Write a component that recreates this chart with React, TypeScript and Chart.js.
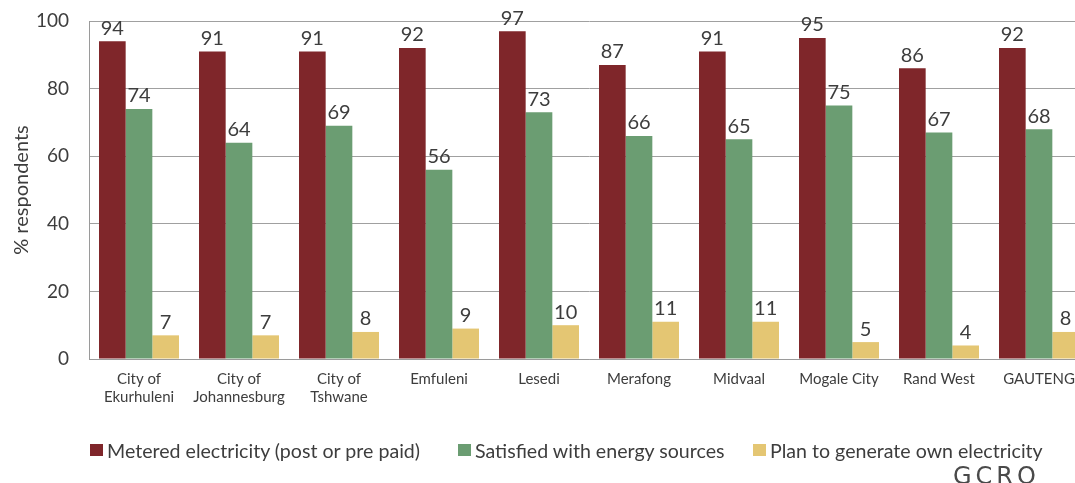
import React, { useEffect, useRef } from "react";
import { Chart, registerables } from "chart.js";

Chart.register(...registerables);

const categories: string[][] = [
  ["City of", "Ekurhuleni"],
  ["City of", "Johannesburg"],
  ["City of", "Tshwane"],
  ["Emfuleni"],
  ["Lesedi"],
  ["Merafong"],
  ["Midvaal"],
  ["Mogale City"],
  ["Rand West"],
  ["GAUTENG"],
];
const metered = [94, 91, 91, 92, 97, 87, 91, 95, 86, 92];
const satisfied = [74, 64, 69, 56, 73, 66, 65, 75, 67, 68];
const planOwn = [7, 7, 8, 9, 10, 11, 11, 5, 4, 8];
const seriesNames = [
  "Metered electricity (post or pre paid)",
  "Satisfied with energy sources",
  "Plan to generate own electricity",
];
const colors = ["#7f262a", "#6b9d72", "#e4c673"];
const yTicks = [0, 20, 40, 60, 80, 100];
const legendLeft = [90, 458, 753];

const FONT = "Lato, 'Open Sans', sans-serif";
const TEXT = "#3d3d3d";

const valueLabels = {
  id: "valueLabels",
  afterDatasetsDraw(chart: any) {
    const ctx = chart.ctx;
    ctx.save();
    ctx.font = `20px ${FONT}`;
    ctx.fillStyle = TEXT;
    ctx.textAlign = "center";
    ctx.textBaseline = "bottom";
    chart.data.datasets.forEach((ds: any, i: number) => {
      const meta = chart.getDatasetMeta(i);
      meta.data.forEach((bar: any, j: number) => {
        ctx.fillText(String(ds.data[j]), bar.x, bar.y - 3);
      });
    });
    ctx.restore();
  },
};

export default function App() {
  const ref = useRef<HTMLCanvasElement | null>(null);
  useEffect(() => {
    if (!ref.current) return;
    const chart = new Chart(ref.current, {
      type: "bar",
      data: {
        labels: categories,
        datasets: [metered, satisfied, planOwn].map((d, i) => ({
          label: seriesNames[i],
          data: d,
          backgroundColor: colors[i],
          borderWidth: 0,
          barPercentage: 1,
          categoryPercentage: 0.8,
          yAxisID: "y",
        })),
      },
      options: {
        animation: false,
        responsive: true,
        maintainAspectRatio: false,
        layout: { padding: { top: 21, left: 10, right: 0, bottom: 72 } },
        plugins: {
          tooltip: { enabled: false },
          legend: { display: false },
        },
        scales: {
          x: {
            grid: { display: false, drawTicks: false },
            border: { display: true, color: "#9a9a9a", width: 1 },
            ticks: {
              color: TEXT,
              font: { family: FONT, size: 15 },
              padding: 11,
              maxRotation: 0,
              autoSkip: false,
            },
            afterFit: (s: any) => {
              s.height = 52;
            },
          },
          y: {
            min: 0,
            max: 100,
            afterBuildTicks: (axis: any) => {
              axis.ticks = yTicks.map((v) => ({ value: v }));
            },
            grid: { color: "#a0a0a0", lineWidth: 1, drawTicks: false },
            border: { display: true, color: "#9a9a9a", width: 1 },
            ticks: {
              color: TEXT,
              font: { family: FONT, size: 19 },
              padding: 20,
            },
            title: {
              display: true,
              text: "% respondents",
              color: TEXT,
              font: { family: FONT, size: 20 },
              padding: { top: 0, bottom: 0 },
            },
            afterFit: (s: any) => {
              s.width = 79;
              s.paddingTop = 4;
              s.paddingBottom = 4;
            },
          },
          yR: {
            type: "linear",
            position: "right",
            display: true,
            grid: { display: false, drawTicks: false },
            border: { display: false },
            ticks: { display: false },
            afterFit: (s: any) => {
              s.width = 31;
            },
          },
        },
      },
      plugins: [valueLabels],
    });
    return () => chart.destroy();
  }, []);

  return (
    <div
      style={{
        position: "fixed",
        left: 0,
        top: 0,
        width: 1075,
        height: 483,
        overflow: "hidden",
        background: "#fff",
      }}
    >
      <div style={{ position: "absolute", left: 0, top: 0, width: 1120, height: 483 }}>
        <canvas ref={ref} />
      </div>
      {seriesNames.map((name, i) => (
        <div
          key={name}
          style={{
            position: "absolute",
            left: legendLeft[i],
            top: 438,
            height: 24,
            display: "flex",
            alignItems: "center",
            fontFamily: FONT,
            fontSize: 19.6,
            color: TEXT,
            whiteSpace: "nowrap",
          }}
        >
          <span
            style={{
              display: "inline-block",
              width: 13,
              height: 12,
              background: colors[i],
              marginRight: 4,
            }}
          />
          {name}
        </div>
      ))}
      <div
        style={{
          position: "absolute",
          left: 953,
          top: 464,
          fontFamily: "'DejaVu Sans', sans-serif",
          fontSize: 24,
          letterSpacing: 4,
          color: "#4a4a4a",
          lineHeight: "24px",
        }}
      >
        GCRO
      </div>
    </div>
  );
}
